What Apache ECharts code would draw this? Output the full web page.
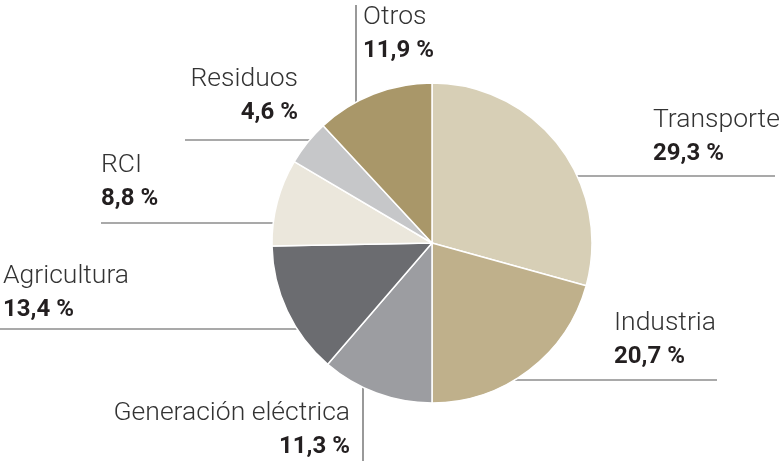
<!DOCTYPE html>
<html>
<head>
<meta charset="utf-8">
<script src="https://cdn.jsdelivr.net/npm/echarts@6/dist/echarts.min.js"></script>
<style>
  html, body { margin: 0; padding: 0; background: #fff; }
  #mychart { width: 780px; height: 461px; }
</style>
</head>
<body>
<div id="mychart"></div>
<script>
  // data
  var sectores = ['Transporte', 'Industria', 'Generación eléctrica', 'Agricultura', 'RCI', 'Residuos', 'Otros']
  var porcentajes = [29.3, 20.7, 11.3, 13.4, 8.8, 4.6, 11.9]

  var colores = ['#d7cfb6', '#bfb08b', '#9c9da1', '#6b6c70', '#ebe7dc', '#c6c7c9', '#a99769']

  // label placement: text block top-left/right + leader line
  var etiquetas = [
    { x: 653, y: 104, align: 'left',  line: [[577, 176], [775, 176]] },
    { x: 614, y: 307, align: 'left',  line: [[515, 380], [717, 380]] },
    { x: 350, y: 397, align: 'right', line: [[363, 387], [363, 461]] },
    { x: 3,   y: 260, align: 'left',  line: [[297, 329], [0, 329]] },
    { x: 101, y: 149, align: 'left',  line: [[275, 223], [101, 223]] },
    { x: 298, y: 63,  align: 'right', line: [[310, 140], [185, 140]] },
    { x: 363, y: 1,   align: 'left',  line: [[356, 102], [356, 5]] }
  ]

  function fmt(v) {
    return v.toFixed(1).replace('.', ',') + ' %'
  }

  var datos = sectores.map(function (s, i) {
    return { name: s, value: porcentajes[i], itemStyle: { color: colores[i] } }
  })

  var chart = echarts.init(document.getElementById('mychart'))
  chart.setOption({
    animation: false,
    series: [
      {
        type: 'pie',
        center: [432, 243],
        radius: 160,
        startAngle: 90,
        clockwise: true,
        avoidLabelOverlap: false,
        itemStyle: {
          borderColor: '#fff',
          borderWidth: 1.5
        },
        label: {
          show: true,
          position: 'outside',
          formatter: function (p) {
            return '{n|' + p.name + '}\n{v|' + fmt(p.value) + '}'
          },
          rich: {
            n: {
              fontFamily: 'Roboto',
              fontWeight: 300,
              fontSize: 26.5,
              lineHeight: 33,
              color: '#333333'
            },
            v: {
              fontFamily: 'Roboto',
              fontWeight: 'bold',
              fontSize: 24,
              lineHeight: 33,
              color: '#231f20'
            }
          }
        },
        labelLine: {
          show: true,
          lineStyle: {
            color: '#555555',
            width: 1.2
          }
        },
        labelLayout: function (params) {
          var e = etiquetas[params.dataIndex]
          var a = e.line[0], b = e.line[1]
          return {
            x: e.x,
            y: e.y,
            align: e.align,
            verticalAlign: 'top',
            labelLinePoints: [a, [(a[0] + b[0]) / 2, (a[1] + b[1]) / 2], b]
          }
        },
        data: datos
      }
    ]
  })
</script>
</body>
</html>
